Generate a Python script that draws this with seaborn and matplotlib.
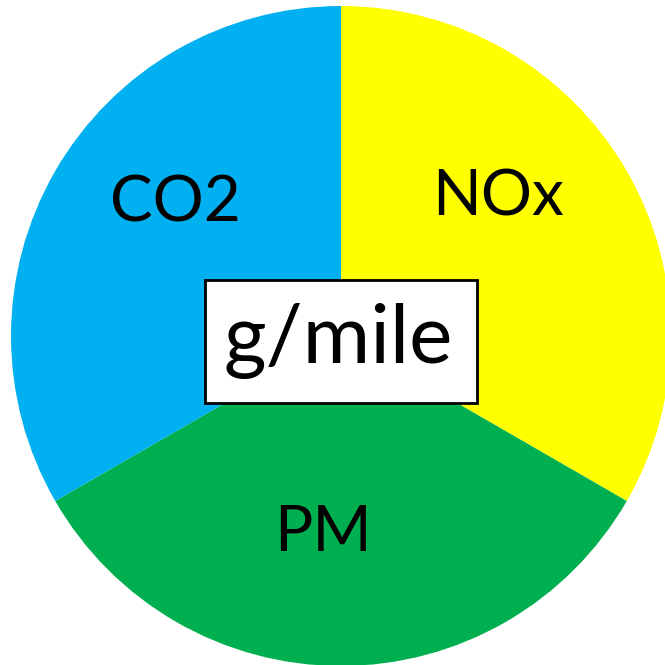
import matplotlib
matplotlib.use("Agg")
import matplotlib.pyplot as plt
from matplotlib.patches import Rectangle
import seaborn as sns

sns.set_style("white")
plt.rcParams['font.family'] = ['Lato', 'DejaVu Sans']

# datos
gases = ["NOx", "PM", "CO2"]
partes = [1, 1, 1]
colores = ["#FFFF00", "#00B050", "#00B0F0"]
unidad = "g/mile"

paleta = sns.color_palette(colores)

fig = plt.figure(figsize=(6.65, 6.65), dpi=100)
ax = fig.add_axes([0, 0, 1, 1])

# pie en coordenadas de pixel (y hacia arriba)
ax.pie(partes, colors=paleta, startangle=90, counterclock=False,
       center=(341, 329), radius=330, frame=True,
       wedgeprops=dict(linewidth=0))

ax.set_xlim(0, 665)
ax.set_ylim(0, 665)
ax.set_aspect('equal')
ax.axis('off')

# etiquetas de cada gas
posiciones = {"NOx": (498, 468), "PM": (323, 132), "CO2": (175, 461)}
for g in gases:
    x, y = posiciones[g]
    ax.text(x, y, g, ha='center', va='center', fontsize=46, color='black')

# caja central
ax.add_patch(Rectangle((205, 262), 272, 123, facecolor='white',
                       edgecolor='black', linewidth=2, zorder=5))
ax.text(338, 324, unidad, ha='center', va='center', fontsize=59,
        color='black', zorder=6)

fig.savefig("out.png", dpi=100)
